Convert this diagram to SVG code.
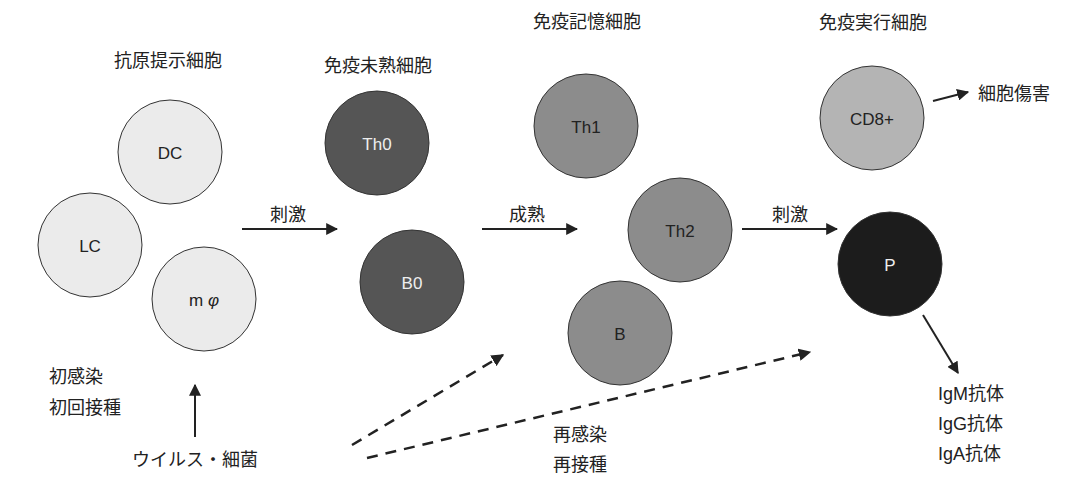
<svg xmlns="http://www.w3.org/2000/svg" width="1086" height="478" viewBox="0 0 1086 478">
<style>
text{font-family:"Liberation Sans","Noto Sans CJK JP",sans-serif;fill:#222}
.t{font-size:18px;text-anchor:middle}
.s{font-size:18px}
.l{font-size:17px;text-anchor:middle;dominant-baseline:central}
.c{stroke:#333;stroke-width:1}
.apc{fill:#ebebeb}
.naive{fill:#555555}
.mem{fill:#8c8c8c}
.cd8{fill:#b4b4b4}
.p{fill:#1c1c1c}
.arr{stroke:#222;stroke-width:2;fill:none}
.dash{stroke:#222;stroke-width:2.5;fill:none;stroke-dasharray:11 8}
</style>
<defs>
<marker id="ah" viewBox="0 0 10 10" refX="9" refY="5" markerWidth="6" markerHeight="6" markerUnits="strokeWidth" orient="auto"><path d="M0,0 L10,5 L0,10 z" fill="#222"/></marker>
<marker id="ah2" viewBox="0 0 10 10" refX="9" refY="5" markerWidth="5" markerHeight="5" markerUnits="strokeWidth" orient="auto"><path d="M0,0 L10,5 L0,10 z" fill="#222"/></marker>
</defs>
<rect width="1086" height="478" fill="#fff"/>
<g id="titles">
<text class="t" x="168" y="67">抗原提示細胞</text>
<text class="t" x="378" y="72">免疫未熟細胞</text>
<text class="t" x="587" y="28">免疫記憶細胞</text>
<text class="t" x="873" y="29">免疫実行細胞</text>
</g>
<g id="DC"><circle class="c apc" cx="170" cy="152" r="52"/><text class="l" x="170" y="153">DC</text></g>
<g id="LC"><circle class="c apc" cx="90" cy="245" r="52"/><text class="l" x="90" y="246">LC</text></g>
<g id="mphi"><circle class="c apc" cx="204" cy="299" r="52"/><text class="l" x="204" y="300">m <tspan font-style="italic">φ</tspan></text></g>
<g id="Th0"><circle class="c naive" cx="377" cy="143" r="52"/><text class="l" x="377" y="144" style="fill:#eee">Th0</text></g>
<g id="B0"><circle class="c naive" cx="412" cy="282" r="52"/><text class="l" x="412" y="283" style="fill:#eee">B0</text></g>
<g id="Th1"><circle class="c mem" cx="586" cy="126" r="52"/><text class="l" x="586" y="127">Th1</text></g>
<g id="Th2"><circle class="c mem" cx="680" cy="230" r="52"/><text class="l" x="680" y="231">Th2</text></g>
<g id="B"><circle class="c mem" cx="620" cy="333" r="52"/><text class="l" x="620" y="334">B</text></g>
<g id="CD8"><circle class="c cd8" cx="872" cy="118" r="52"/><text class="l" x="872" y="119">CD8+</text></g>
<g id="P"><circle class="c p" cx="890" cy="264" r="52"/><text class="l" x="890" y="265" style="fill:#eee">P</text></g>
<g id="connectors">
<line class="arr" x1="242" y1="229" x2="337" y2="229" marker-end="url(#ah)"/>
<line class="arr" x1="482" y1="229" x2="577" y2="229" marker-end="url(#ah)"/>
<line class="arr" x1="742" y1="229" x2="837" y2="229" marker-end="url(#ah)"/>
<line class="arr" x1="933" y1="101" x2="968" y2="92" marker-end="url(#ah)"/>
<line class="arr" x1="923" y1="315" x2="958" y2="373" marker-end="url(#ah)"/>
<line class="arr" x1="195" y1="437" x2="195" y2="385" marker-end="url(#ah)"/>
<line class="dash" x1="352" y1="445" x2="503" y2="355" marker-end="url(#ah2)"/>
<line class="dash" x1="367" y1="458" x2="810" y2="352" marker-end="url(#ah2)"/>
</g>
<g id="labels">
<text class="t" x="288" y="221">刺激</text>
<text class="t" x="527" y="221">成熟</text>
<text class="t" x="790" y="221">刺激</text>
<text class="s" x="978" y="100">細胞傷害</text>
<text class="s" x="938" y="400">IgM抗体</text>
<text class="s" x="938" y="430">IgG抗体</text>
<text class="s" x="938" y="460">IgA抗体</text>
<text class="s" x="49" y="383">初感染</text>
<text class="s" x="49" y="414">初回接種</text>
<text class="s" x="132" y="466">ウイルス・細菌</text>
<text class="s" x="553" y="441">再感染</text>
<text class="s" x="553" y="471">再接種</text>
</g>
</svg>
